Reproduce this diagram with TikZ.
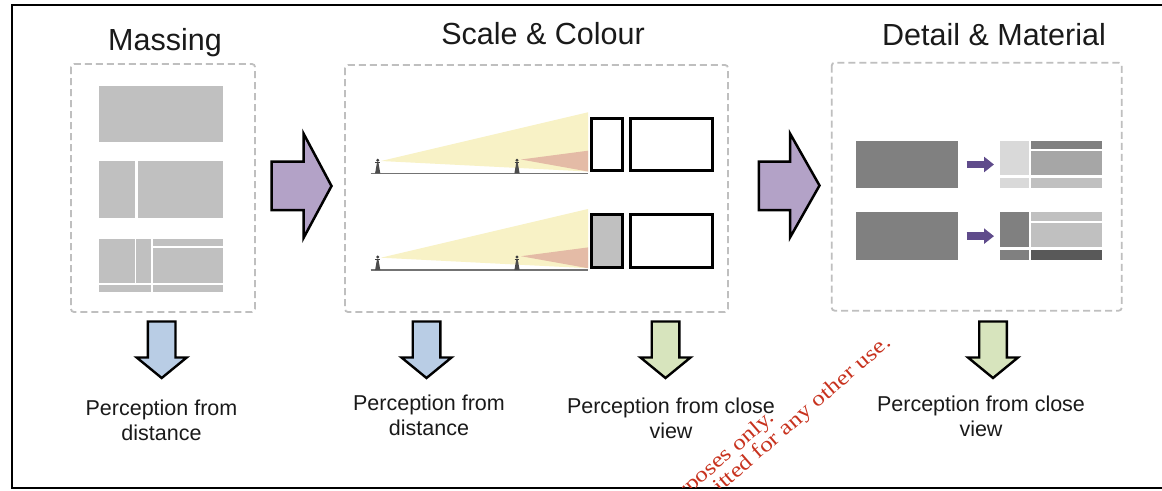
\documentclass[tikz,border=0pt]{standalone}
\usepackage{fontspec}
\setmainfont{Liberation Sans}
\newfontfamily\wmfont[FakeStretch=1.2]{Liberation Serif}
\usetikzlibrary{arrows.meta}
\definecolor{boxgray}{HTML}{BFBFBF}
\definecolor{mass}{HTML}{C0C0C0}
\definecolor{purp}{HTML}{B3A2C7}
\definecolor{dpurp}{HTML}{5F4B8B}
\definecolor{blu}{HTML}{B9CDE5}
\definecolor{grn}{HTML}{D7E4BD}
\definecolor{yel}{HTML}{F8F2C6}
\definecolor{pnk}{HTML}{E4BBA6}
\definecolor{dk}{HTML}{808080}
\definecolor{wmred}{HTML}{C8321E}
\definecolor{txt}{HTML}{1A1A1A}
\begin{document}
\begin{tikzpicture}[x=1pt,y=-1pt,
  dbox/.style={draw=boxgray, line width=1.8pt, dash pattern=on 7pt off 4pt, rounded corners=3pt},
  bigarrow/.style={fill=purp, draw=black, line width=2.5pt, line join=miter},
  downarrow/.style={draw=black, line width=2.4pt, line join=miter},
  title/.style={font=\fontsize{30.5}{32}\selectfont, text=txt, inner sep=0pt, anchor=base},
  label/.style={font=\fontsize{21.5}{25}\selectfont, text=txt, inner sep=0pt, anchor=base, align=center},
  gap/.style={white, line width=1.6pt},
  bld/.style={draw=black, line width=3pt},
  ground/.style={draw=black!55, line width=1.5pt},
  smallarr/.style={dpurp, line width=7.5pt, -{Triangle[length=10pt,width=15pt]}},
  wm/.style={font=\wmfont\fontsize{21}{20}\selectfont, text=wmred, inner sep=0pt, rotate=41, anchor=base east}
]
\useasboundingbox (0,0) rectangle (1162,490);
\fill[white] (0,0) rectangle (1162,490);

% outer frame
\draw[line width=2pt] (1162,5) -- (11.5,5) -- (11.5,488.3) -- (1162,488.3);

% titles
\node[title] (t1) at (165,50) {Massing};
\node[title] (t2) at (543,44) {Scale \& Colour};
\node[title] (t3) at (994,45) {Detail \& Material};

% dashed boxes
\draw[dbox] (71,64) rectangle (255,312);
\draw[dbox] (345,65) rectangle (728,312);
\draw[dbox] (831.7,62.7) rectangle (1121.7,310.7);

% ---- Massing
\fill[mass] (99.3,85.7) rectangle (223.3,142.3);
\fill[mass] (99.3,161) rectangle (223.3,217.7);
\draw[white, line width=3pt] (136.8,161) -- (136.8,217.7);
\fill[mass] (99.3,239.3) rectangle (223.3,292.3);
\draw[gap] (135.6,239.3) -- (135.6,283.7);
\draw[gap] (152.2,239.3) -- (152.2,292.3);
\draw[white, line width=2.4pt] (99.3,283.7) -- (223.3,283.7);
\draw[gap] (152.2,246.8) -- (223.3,246.8);

% ---- Scale & Colour
\foreach \dy in {0,96.7}{
  \begin{scope}[yshift=-\dy pt]
    \fill[yel] (381,161) -- (588,112.3) -- (588,171.5) -- cycle;
    \fill[pnk] (521,159.5) -- (588,150.7) -- (588,171.5) -- cycle;
    \draw[ground] (370.7,173.3) -- (588,173.3);
    \foreach \ox in {377.7,517}{
      \fill[black!70] (\ox-2.6,173.3) -- (\ox-0.8,163) -- (\ox+0.8,163) -- (\ox+2.6,173.3) -- cycle;
      \fill[black!75] (\ox,160.3) circle (1.6pt);
      \draw[black!75, line width=0.8pt] (\ox-2.4,162.6) -- (\ox+2.4,162.6);
    }
  \end{scope}
}
\draw[bld] (591.5,118.2) rectangle (622.8,170.8);
\draw[bld] (630.2,118.2) rectangle (712.5,170.8);
\draw[bld, fill=mass] (591.5,214.9) rectangle (622.8,267.5);
\draw[bld] (630.2,214.9) rectangle (712.5,267.5);

% ---- Detail & Material
\node[fill=dk, minimum width=102pt, minimum height=47.6pt, inner sep=0pt, outer sep=0pt, anchor=north west] (d1) at (855.7,140.7) {};
\node[fill=dk, minimum width=102pt, minimum height=47.7pt, inner sep=0pt, outer sep=0pt, anchor=north west] (d2) at (855.7,212.3) {};
\node[minimum width=101.7pt, minimum height=47.6pt, inner sep=0pt, outer sep=0pt, anchor=north west] (c1) at (1000,140.7) {};
\node[minimum width=101.7pt, minimum height=47.7pt, inner sep=0pt, outer sep=0pt, anchor=north west] (c2) at (1000,212.3) {};
% composite 1
\fill[black!15] (1000,140.7) rectangle (1029,175);
\fill[black!15] (1000,177.7) rectangle (1029,188.3);
\fill[dk] (1030.7,140.7) rectangle (1101.7,149.3);
\fill[black!35] (1030.7,150.7) rectangle (1101.7,175);
\fill[mass] (1030.7,177.7) rectangle (1101.7,188.3);
% composite 2
\fill[dk] (1000,212.3) rectangle (1029,247.3);
\fill[dk] (1000,250) rectangle (1029,260);
\fill[mass] (1030.7,212.3) rectangle (1101.7,220.7);
\fill[mass] (1030.7,222.7) rectangle (1101.7,247.3);
\fill[black!65] (1030.7,250) rectangle (1101.7,260);
\draw[smallarr, shorten <=9pt, shorten >=6pt] (d1.east) -- (c1.west);
\draw[smallarr, shorten <=9pt, shorten >=6pt] (d2.east) -- (c2.west);

% ---- big purple arrows
\draw[bigarrow] (271.5,161.5) -- (303.5,161.5) -- (303.5,133.5) -- (331.5,186) -- (303.5,238) -- (303.5,210.2) -- (271.5,210.2) -- cycle;
\draw[bigarrow] (758.8,161.5) -- (790,161.5) -- (790,133.5) -- (819.5,185.5) -- (790,237.5) -- (790,210.2) -- (758.8,210.2) -- cycle;

% ---- down arrows
\foreach \cx/\col in {161.7/blu, 426.5/blu, 665.5/grn, 993/grn}{
  \draw[downarrow, fill=\col] (\cx-13.8,321.5) -- (\cx+13.8,321.5) -- (\cx+13.8,357.5) -- (\cx+25,357.5) -- (\cx,378) -- (\cx-25,357.5) -- (\cx-13.8,357.5) -- cycle;
}

% ---- labels (base anchor = baseline of last line)
\node[label] (l1) at (161.5,440) {Perception from\\distance};
\node[label] (l2) at (429,435) {Perception from\\distance};
\node[label] (l3) at (671,438) {Perception from close\\view};
\node[label] (l4) at (981,436) {Perception from close\\view};

% ---- watermark
\begin{scope}
  \clip (12.5,6) rectangle (1162,487.3);
  \node[wm] (w1) at (775.5,419.5) {For review purposes only.};
  \node[wm] (w2) at (892,344) {Not permitted for any other use.};
\end{scope}
\end{tikzpicture}
\end{document}
